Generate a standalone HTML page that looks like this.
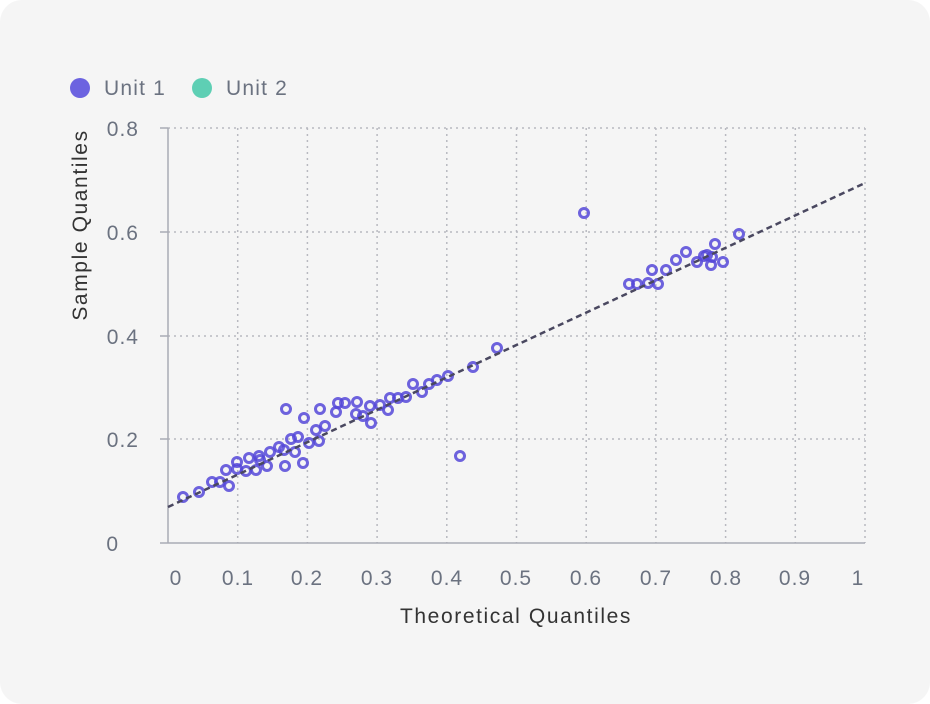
<!DOCTYPE html>
<html><head><meta charset="utf-8"><style>
html,body{margin:0;padding:0;background:#fff;}
.card{position:absolute;left:0;top:0;width:930px;height:704px;background:#f5f5f5;border-radius:22px;}
svg{position:absolute;left:0;top:0;font-family:"Liberation Sans",sans-serif;}
</style></head><body><div class="card"></div>
<svg width="930" height="704" viewBox="0 0 930 704">
<g stroke="#b8b9c0" stroke-width="1.5" stroke-dasharray="2 4" fill="none">
<line x1="168" y1="128" x2="865" y2="128"/><line x1="168" y1="232" x2="865" y2="232"/>
<line x1="168" y1="336" x2="865" y2="336"/><line x1="168" y1="439" x2="865" y2="439"/>
<line x1="237.7" y1="128" x2="237.7" y2="543"/><line x1="307.4" y1="128" x2="307.4" y2="543"/>
<line x1="377.1" y1="128" x2="377.1" y2="543"/><line x1="446.8" y1="128" x2="446.8" y2="543"/>
<line x1="516.5" y1="128" x2="516.5" y2="543"/><line x1="586.2" y1="128" x2="586.2" y2="543"/>
<line x1="655.9" y1="128" x2="655.9" y2="543"/><line x1="725.6" y1="128" x2="725.6" y2="543"/>
<line x1="795.3" y1="128" x2="795.3" y2="543"/><line x1="865" y1="128" x2="865" y2="543"/>
</g>
<g stroke="#a9abb5" stroke-width="1.5">
<line x1="168" y1="128" x2="168" y2="543"/><line x1="160" y1="543" x2="865" y2="543"/>
<line x1="160" y1="128" x2="168" y2="128"/><line x1="160" y1="232" x2="168" y2="232"/>
<line x1="160" y1="336" x2="168" y2="336"/><line x1="160" y1="439" x2="168" y2="439"/>
</g>
<g fill="#6b7280" font-size="21" letter-spacing="1" text-anchor="end">
<text x="139" y="136">0.8</text><text x="139" y="240">0.6</text><text x="139" y="344">0.4</text>
<text x="139" y="447">0.2</text><text x="119" y="551">0</text>
</g>
<g fill="#6b7280" font-size="21" letter-spacing="1" text-anchor="middle">
<text x="176" y="585">0</text><text x="238" y="585">0.1</text><text x="307" y="585">0.2</text>
<text x="377" y="585">0.3</text><text x="447" y="585">0.4</text><text x="516" y="585">0.5</text>
<text x="586" y="585">0.6</text><text x="656" y="585">0.7</text><text x="726" y="585">0.8</text>
<text x="795" y="585">0.9</text><text x="858" y="585">1</text>
</g>
<text x="516" y="623" font-size="21" letter-spacing="1.6" fill="#333" text-anchor="middle">Theoretical Quantiles</text>
<text transform="translate(87,225) rotate(-90)" font-size="21" letter-spacing="1.6" fill="#333" text-anchor="middle">Sample Quantiles</text>
<circle cx="80" cy="88" r="10" fill="#6c63e0"/><text x="104" y="95" font-size="21" letter-spacing="1.2" fill="#6b7280">Unit 1</text>
<circle cx="202" cy="88" r="10" fill="#5ecfb4"/><text x="226" y="95" font-size="21" letter-spacing="1.2" fill="#6b7280">Unit 2</text>
<g fill="none" stroke="#5548d8" stroke-opacity="0.85" stroke-width="3">
<circle cx="183" cy="497" r="4.5"/><circle cx="199" cy="492" r="4.5"/><circle cx="212" cy="482" r="4.5"/><circle cx="220" cy="482" r="4.5"/><circle cx="226" cy="470" r="4.5"/><circle cx="229" cy="486" r="4.5"/><circle cx="237" cy="462" r="4.5"/><circle cx="237" cy="469" r="4.5"/><circle cx="246" cy="471" r="4.5"/><circle cx="249" cy="458" r="4.5"/><circle cx="256" cy="470" r="4.5"/><circle cx="259" cy="456" r="4.5"/><circle cx="260" cy="460" r="4.5"/><circle cx="267" cy="466" r="4.5"/><circle cx="270" cy="452" r="4.5"/><circle cx="279" cy="447" r="4.5"/><circle cx="284" cy="450" r="4.5"/><circle cx="286" cy="409" r="4.5"/><circle cx="285" cy="466" r="4.5"/><circle cx="291" cy="439" r="4.5"/><circle cx="295" cy="452" r="4.5"/><circle cx="298" cy="437" r="4.5"/><circle cx="304" cy="418" r="4.5"/><circle cx="303" cy="463" r="4.5"/><circle cx="309" cy="443" r="4.5"/><circle cx="316" cy="430" r="4.5"/><circle cx="319" cy="441" r="4.5"/><circle cx="320" cy="409" r="4.5"/><circle cx="325" cy="426" r="4.5"/><circle cx="336" cy="412" r="4.5"/><circle cx="338" cy="403" r="4.5"/><circle cx="345" cy="403" r="4.5"/><circle cx="357" cy="402" r="4.5"/><circle cx="356" cy="414" r="4.5"/><circle cx="363" cy="416" r="4.5"/><circle cx="370" cy="406" r="4.5"/><circle cx="371" cy="423" r="4.5"/><circle cx="380" cy="405" r="4.5"/><circle cx="390" cy="398" r="4.5"/><circle cx="388" cy="410" r="4.5"/><circle cx="398" cy="398" r="4.5"/><circle cx="406" cy="397" r="4.5"/><circle cx="413" cy="384" r="4.5"/><circle cx="422" cy="392" r="4.5"/><circle cx="429" cy="384" r="4.5"/><circle cx="437" cy="380" r="4.5"/><circle cx="448" cy="376" r="4.5"/><circle cx="460" cy="456" r="4.5"/><circle cx="473" cy="367" r="4.5"/><circle cx="497" cy="348" r="4.5"/><circle cx="584" cy="213" r="4.5"/><circle cx="629" cy="284" r="4.5"/><circle cx="637" cy="284" r="4.5"/><circle cx="648" cy="283" r="4.5"/><circle cx="652" cy="270" r="4.5"/><circle cx="658" cy="284" r="4.5"/><circle cx="666" cy="270" r="4.5"/><circle cx="676" cy="260" r="4.5"/><circle cx="686" cy="252" r="4.5"/><circle cx="697" cy="262" r="4.5"/><circle cx="704" cy="256" r="4.5"/><circle cx="707" cy="255" r="4.5"/><circle cx="711" cy="265" r="4.5"/><circle cx="715" cy="244" r="4.5"/><circle cx="712" cy="257" r="4.5"/><circle cx="723" cy="262" r="4.5"/><circle cx="739" cy="234" r="4.5"/>
</g>
<line x1="168" y1="507" x2="865" y2="183" stroke="#4a4860" stroke-width="2.5" stroke-dasharray="6 4"/>
</svg></body></html>
